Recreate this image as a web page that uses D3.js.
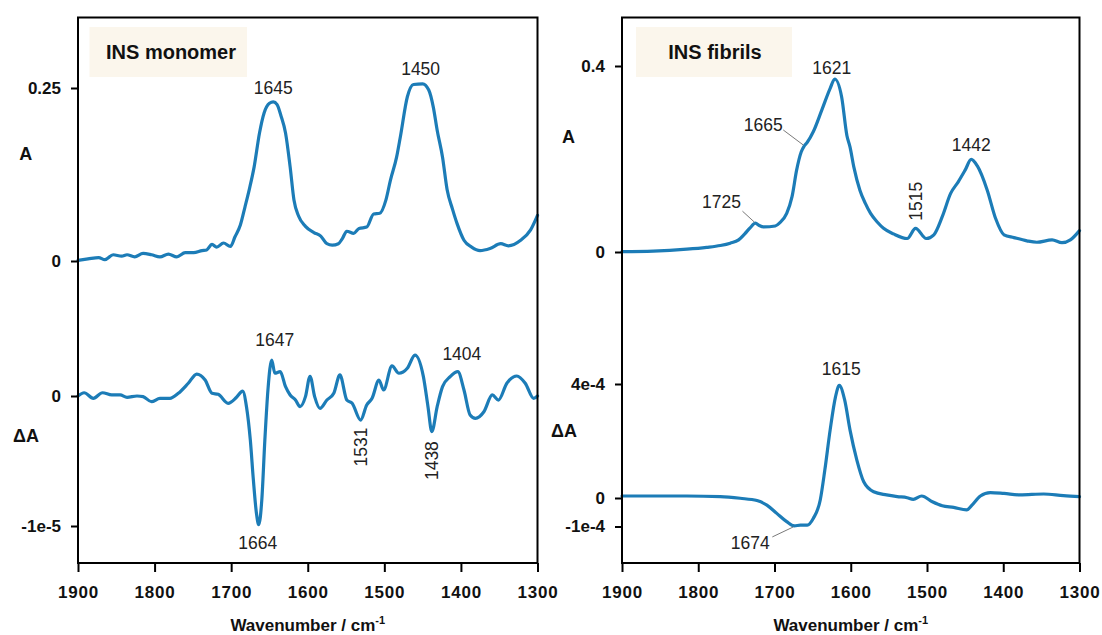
<!DOCTYPE html>
<html>
<head>
<meta charset="utf-8">
<script src="https://cdn.jsdelivr.net/npm/d3@7"></script>
<style>
  html, body { margin: 0; padding: 0; background: #ffffff; }
  svg { display: block; font-family: "Liberation Sans", Arial, Helvetica, sans-serif; }
</style>
</head>
<body>
<svg id="chart" width="1102" height="635"></svg>
<script>
// ---------- data: FTIR spectra of insulin (wavenumber in cm^-1) ----------

// INS monomer, absorbance
const monomerAbs = [
  [1900, 0.001], [1887, 0.003], [1873, 0.005], [1865, 0.002], [1854, 0.009], [1843, 0.007],
  [1836, 0.009], [1826, 0.006], [1815, 0.011], [1804, 0.009], [1793, 0.006], [1782, 0.010],
  [1771, 0.006], [1760, 0.012], [1749, 0.012], [1738, 0.015], [1732, 0.016], [1725, 0.024],
  [1719, 0.020], [1710, 0.026], [1701, 0.021], [1695, 0.035], [1688, 0.052], [1682, 0.078],
  [1676, 0.105], [1670, 0.136], [1663, 0.185], [1657, 0.214], [1650, 0.228], [1645, 0.230],
  [1640, 0.226], [1635, 0.210], [1629, 0.185], [1623, 0.136], [1618, 0.088], [1612, 0.065],
  [1603, 0.050], [1592, 0.041], [1583, 0.036], [1575, 0.025], [1568, 0.023], [1560, 0.025],
  [1555, 0.032], [1549, 0.043], [1540, 0.040], [1533, 0.047], [1523, 0.049], [1514, 0.068],
  [1506, 0.069], [1498, 0.088], [1492, 0.117], [1484, 0.150], [1479, 0.180], [1470, 0.237],
  [1462, 0.255], [1450, 0.256], [1442, 0.247], [1436, 0.222], [1431, 0.189], [1424, 0.150],
  [1418, 0.103], [1411, 0.075], [1405, 0.054], [1396, 0.030], [1386, 0.020], [1375, 0.015],
  [1362, 0.018], [1348, 0.025], [1338, 0.022], [1322, 0.030], [1309, 0.045], [1300, 0.066]
];

// INS monomer, difference spectrum
const monomerDiff = [
  [1900, 0], [1892, 0.025e-5], [1880, -0.018e-5], [1868, 0.025e-5], [1856, 0.008e-5],
  [1845, 0.008e-5], [1836, -0.010e-5], [1823, 0], [1815, -0.005e-5], [1804, -0.044e-5],
  [1793, -0.018e-5], [1780, -0.018e-5], [1769, 0.021e-5], [1756, 0.098e-5], [1745, 0.169e-5],
  [1734, 0.123e-5], [1725, 0.021e-5], [1717, 0.013e-5], [1704, -0.056e-5], [1693, -0.010e-5],
  [1685, 0.038e-5], [1680, -0.082e-5], [1675, -0.338e-5], [1671, -0.646e-5], [1667, -0.902e-5],
  [1664, -0.99e-5], [1660, -0.80e-5], [1656, -0.338e-5], [1652, 0.046e-5], [1647, 0.277e-5],
  [1643, 0.175e-5], [1636, 0.187e-5], [1629, 0.072e-5], [1623, 0.008e-5], [1616, -0.031e-5],
  [1610, -0.082e-5], [1603, -0.005e-5], [1597, 0.152e-5], [1591, -0.005e-5], [1584, -0.095e-5],
  [1575, -0.031e-5], [1566, 0.021e-5], [1558, 0.162e-5], [1549, -0.031e-5], [1542, -0.056e-5],
  [1531, -0.185e-5], [1523, -0.069e-5], [1516, -0.018e-5], [1507, 0.123e-5], [1501, 0.046e-5],
  [1490, 0.231e-5], [1481, 0.175e-5], [1470, 0.213e-5], [1460, 0.315e-5], [1449, 0.149e-5],
  [1443, -0.082e-5], [1438, -0.274e-5], [1431, -0.082e-5], [1424, 0.072e-5], [1414, 0.149e-5],
  [1404, 0.187e-5], [1396, 0.046e-5], [1388, -0.146e-5], [1381, -0.172e-5], [1370, -0.121e-5],
  [1359, 0.008e-5], [1351, -0.031e-5], [1340, 0.098e-5], [1327, 0.154e-5], [1316, 0.098e-5],
  [1305, -0.018e-5], [1300, 0]
];

// INS fibrils, absorbance
const fibrilAbs = [
  [1900, 0.001], [1859, 0.002], [1815, 0.006], [1789, 0.010], [1771, 0.014], [1758, 0.019],
  [1747, 0.026], [1739, 0.039], [1732, 0.052], [1725, 0.062], [1720, 0.057], [1714, 0.054],
  [1699, 0.056], [1693, 0.063], [1684, 0.083], [1677, 0.119], [1671, 0.176], [1665, 0.215],
  [1661, 0.228], [1657, 0.236], [1649, 0.259], [1638, 0.305], [1627, 0.352], [1621, 0.372],
  [1612, 0.334], [1605, 0.250], [1601, 0.226], [1596, 0.183], [1588, 0.133], [1581, 0.105],
  [1574, 0.083], [1565, 0.064], [1557, 0.051], [1544, 0.039], [1526, 0.029], [1515, 0.051],
  [1501, 0.029], [1491, 0.037], [1480, 0.076], [1469, 0.126], [1459, 0.151], [1450, 0.176],
  [1442, 0.199], [1434, 0.185], [1421, 0.133], [1410, 0.072], [1399, 0.037], [1386, 0.031],
  [1369, 0.024], [1356, 0.021], [1336, 0.026], [1323, 0.020], [1312, 0.026], [1300, 0.046]
];

// INS fibrils, difference spectrum
const fibrilDiff = [
  [1900, 0.07e-4], [1859, 0.07e-4], [1815, 0.07e-4], [1771, 0.05e-4], [1745, -0.01e-4],
  [1723, -0.09e-4], [1710, -0.25e-4], [1697, -0.54e-4], [1684, -0.83e-4], [1674, -0.98e-4],
  [1666, -0.95e-4], [1657, -0.95e-4], [1649, -0.71e-4], [1640, -0.07e-4], [1634, 0.98e-4],
  [1627, 2.39e-4], [1620, 3.55e-4], [1615, 3.95e-4], [1608, 3.44e-4], [1601, 2.39e-4],
  [1592, 1.33e-4], [1583, 0.57e-4], [1570, 0.22e-4], [1553, 0.11e-4], [1539, 0.05e-4],
  [1526, 0.01e-4], [1518, -0.05e-4], [1507, 0.07e-4], [1493, -0.13e-4], [1480, -0.27e-4],
  [1465, -0.33e-4], [1448, -0.42e-4], [1441, -0.25e-4], [1430, 0.07e-4], [1417, 0.19e-4],
  [1399, 0.16e-4], [1378, 0.11e-4], [1347, 0.14e-4], [1321, 0.08e-4], [1300, 0.05e-4]
];

// axis ticks and labels
const xTicks = [1900, 1800, 1700, 1600, 1500, 1400, 1300];
const monomerAbsTicks = [0, 0.25];
const monomerAbsTickLabels = ["0", "0.25"];
const monomerDiffTicks = [0, -1e-5];
const monomerDiffTickLabels = ["0", "-1e-5"];
const fibrilAbsTicks = [0, 0.4];
const fibrilAbsTickLabels = ["0", "0.4"];
const fibrilDiffTicks = [4e-4, 0, -1e-4];
const fibrilDiffTickLabels = ["4e-4", "0", "-1e-4"];

// band assignments: [label, wavenumber, which trace, label offset dx, dy, rotated, leader]
const monomerBands = [
  ["1645", 1645, "abs", 0, -8, false, null],
  ["1450", 1450, "abs", -2, -9, false, null],
  ["1647", 1647, "diff", 3, -14, false, null],
  ["1404", 1404, "diff", 4, -12, false, null],
  ["1664", 1664, "diff", -1, 24, false, null],
  ["1531", 1531, "diff", 0, 27, true, null],
  ["1438", 1438, "diff", 0, 29, true, null]
];
const fibrilBands = [
  ["1621", 1621, "abs", -3, -5, false, null],
  ["1442", 1442, "abs", 0, -8.5, false, null],
  ["1515", 1515, "abs", 0, -27, true, null],
  ["1665", 1661, "abs", -41, -15, false, [-21, -16]],
  ["1725", 1725, "abs", -34, -15, false, [-13, -12]],
  ["1615", 1615, "diff", 2, -10, false, null],
  ["1674", 1674, "diff", -44, 23, false, [-22, 11]]
];

// ---------- layout ----------
const LINE_COLOR = "#1c7cb7";
const TEXT_COLOR = "#222222";
const FONT = "'Liberation Sans', Arial, Helvetica, sans-serif";

const svg = d3.select("#chart");
svg.append("rect").attr("width", 1102).attr("height", 635).attr("fill", "#ffffff");

const panels = [
  {
    title: "INS monomer",
    left: 78, right: 537.5, top: 17.5, bottom: 563,
    abs: monomerAbs, diff: monomerDiff,
    absScale: d3.scaleLinear().domain([0, 0.25]).range([261, 88]),
    diffScale: d3.scaleLinear().domain([0, -1e-5]).range([396, 526]),
    absTicks: monomerAbsTicks, absTickLabels: monomerAbsTickLabels,
    diffTicks: monomerDiffTicks, diffTickLabels: monomerDiffTickLabels,
    bands: monomerBands,
    box: { x: 89.5, y: 27, w: 157.5, h: 50, tx: 106, anchor: "start" },
    aLabel: { x: 25.8, y: 160 }, dLabel: { x: 26, y: 442 }
  },
  {
    title: "INS fibrils",
    left: 622, right: 1079.5, top: 17.5, bottom: 563,
    abs: fibrilAbs, diff: fibrilDiff,
    absScale: d3.scaleLinear().domain([0, 0.4]).range([252, 66]),
    diffScale: d3.scaleLinear().domain([0, 4e-4]).range([498, 384]),
    absTicks: fibrilAbsTicks, absTickLabels: fibrilAbsTickLabels,
    diffTicks: fibrilDiffTicks, diffTickLabels: fibrilDiffTickLabels,
    bands: fibrilBands,
    box: { x: 636, y: 27, w: 156, h: 50, tx: 715, anchor: "middle" },
    aLabel: { x: 568.5, y: 143 }, dLabel: { x: 564, y: 437 }
  }
];

panels.forEach(p => {
  const x = d3.scaleLinear().domain([1900, 1300]).range([p.left, p.right]);
  const g = svg.append("g");

  // title box
  g.append("rect")
    .attr("x", p.box.x).attr("y", p.box.y)
    .attr("width", p.box.w).attr("height", p.box.h)
    .attr("fill", "#fbf6ec");
  g.append("text")
    .attr("x", p.box.tx).attr("y", p.box.y + 32)
    .attr("text-anchor", p.box.anchor)
    .attr("font-family", FONT).attr("font-size", 20).attr("font-weight", "bold")
    .attr("fill", "#111")
    .text(p.title);

  // spectra
  const absLine = d3.line()
    .x(d => x(d[0])).y(d => p.absScale(d[1]))
    .curve(d3.curveMonotoneX);
  const diffLine = d3.line()
    .x(d => x(d[0])).y(d => p.diffScale(d[1]))
    .curve(d3.curveMonotoneX);

  g.append("path").datum(p.abs)
    .attr("d", absLine)
    .attr("fill", "none").attr("stroke", LINE_COLOR)
    .attr("stroke-width", 3.2).attr("stroke-linejoin", "round").attr("stroke-linecap", "round");
  g.append("path").datum(p.diff)
    .attr("d", diffLine)
    .attr("fill", "none").attr("stroke", LINE_COLOR)
    .attr("stroke-width", 3.2).attr("stroke-linejoin", "round").attr("stroke-linecap", "round");

  // band labels
  const lookup = (arr, wn) => arr.find(d => d[0] === wn);
  p.bands.forEach(([label, wn, trace, dx, dy, rotated, leader]) => {
    const arr = trace === "abs" ? p.abs : p.diff;
    const yScale = trace === "abs" ? p.absScale : p.diffScale;
    const pt = lookup(arr, wn);
    if (!pt) return;
    const px = x(wn), py = yScale(pt[1]);
    const lx = px + dx, ly = py + dy;
    if (leader) {
      g.append("line")
        .attr("x1", px + leader[0]).attr("y1", py + leader[1])
        .attr("x2", px - 1).attr("y2", py - (leader[1] > 0 ? -1 : 1))
        .attr("stroke", "#7a7a7a").attr("stroke-width", 1);
    }
    const t = g.append("text")
      .attr("font-family", FONT).attr("font-size", 17.5)
      .attr("fill", TEXT_COLOR)
      .text(label);
    if (rotated) {
      t.attr("transform", `translate(${lx},${ly}) rotate(-90)`)
        .attr("text-anchor", "middle").attr("dy", "0.35em");
    } else {
      t.attr("x", lx).attr("y", ly).attr("text-anchor", "middle");
    }
  });

  // frame
  g.append("rect")
    .attr("x", p.left).attr("y", p.top)
    .attr("width", p.right - p.left).attr("height", p.bottom - p.top)
    .attr("fill", "none").attr("stroke", "#000").attr("stroke-width", 2);

  // x axis
  const xAxis = d3.axisBottom(x).tickValues(xTicks).tickFormat(d3.format("d"))
    .tickSize(9).tickPadding(14).tickSizeOuter(0);
  const gx = g.append("g").attr("transform", `translate(0,${p.bottom})`).call(xAxis);
  gx.select(".domain").remove();
  gx.selectAll(".tick line").attr("stroke", "#000").attr("stroke-width", 2);
  gx.selectAll(".tick text")
    .attr("font-family", FONT).attr("font-size", 17).attr("font-weight", "bold")
    .attr("letter-spacing", "0.8px").attr("fill", "#111");

  // y axes: absorbance (top) and difference (bottom) share the left edge
  [[p.absScale, p.absTicks, p.absTickLabels], [p.diffScale, p.diffTicks, p.diffTickLabels]]
    .forEach(([ys, ticks, labels]) => {
      const yAxis = d3.axisLeft(ys).tickValues(ticks)
        .tickFormat((d, i) => labels[i])
        .tickSize(7).tickPadding(10).tickSizeOuter(0);
      const gy = g.append("g").attr("transform", `translate(${p.left},0)`).call(yAxis);
      gy.select(".domain").remove();
      gy.selectAll(".tick line").attr("stroke", "#000").attr("stroke-width", 2);
      gy.selectAll(".tick text")
        .attr("font-family", FONT).attr("font-size", 17).attr("font-weight", "bold")
        .attr("fill", "#111");
    });

  // y titles
  g.append("text")
    .attr("x", p.aLabel.x).attr("y", p.aLabel.y).attr("text-anchor", "middle")
    .attr("font-family", FONT).attr("font-size", 18).attr("font-weight", "bold").attr("fill", "#111")
    .text("A");
  g.append("text")
    .attr("x", p.dLabel.x).attr("y", p.dLabel.y).attr("text-anchor", "middle")
    .attr("font-family", FONT).attr("font-size", 18).attr("font-weight", "bold").attr("fill", "#111")
    .text("\u0394A");

  // x title
  const xt = g.append("text")
    .attr("x", (p.left + p.right) / 2).attr("y", 631).attr("text-anchor", "middle")
    .attr("font-family", FONT).attr("font-size", 17).attr("font-weight", "bold").attr("fill", "#111");
  xt.append("tspan").text("Wavenumber / cm");
  xt.append("tspan").attr("font-size", 11).attr("dy", -7).text("-1");
});
</script>
</body>
</html>
